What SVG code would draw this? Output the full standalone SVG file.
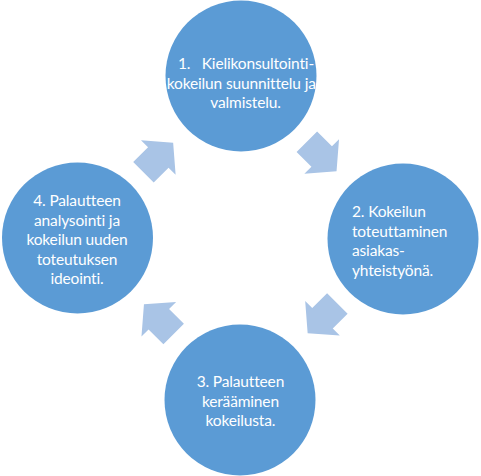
<svg xmlns="http://www.w3.org/2000/svg" width="481" height="476" viewBox="0 0 481 476">
<defs>
<style>
.node circle{fill:#5b9bd5}
.node text{fill:#ffffff;font-family:"Lato","Carlito","Liberation Sans",sans-serif;font-size:15.5px;letter-spacing:-0.15px}
.c{text-anchor:middle}
.arrow{fill:#a9c4e6}
</style>
<path id="arr" d="M-21,-14.5 H0 V-24.5 L21,0 L0,24.5 V14.5 H-21 Z"/>
</defs>
<rect width="481" height="476" fill="#ffffff"/>
<g id="connectors">
<use href="#arr" class="arrow" transform="translate(321.7,156.5) rotate(45)"/>
<use href="#arr" class="arrow" transform="translate(322.5,318.3) rotate(135)"/>
<use href="#arr" class="arrow" transform="translate(158.8,319.2) rotate(225)"/>
<use href="#arr" class="arrow" transform="translate(158.3,157.5) rotate(-45)"/>
</g>
<g id="node1" class="node">
<circle cx="241" cy="76" r="75.5"/>
<text y="69"><tspan x="178">1.</tspan><tspan x="201.7">Kielikonsultointi-</tspan></text>
<text class="c" x="241.3" y="88.5">kokeilun suunnittelu ja</text>
<text class="c" x="245.5" y="108">valmistelu.</text>
</g>
<g id="node2" class="node">
<circle cx="403" cy="239" r="75.5"/>
<text x="352" y="217">2. Kokeilun</text>
<text x="352" y="236.5">toteuttaminen</text>
<text x="352" y="256">asiakas-</text>
<text x="352" y="275.5">yhteistyönä.</text>
</g>
<g id="node3" class="node">
<circle cx="240" cy="400" r="75.5"/>
<text class="c" x="240.4" y="387">3. Palautteen</text>
<text class="c" x="240.4" y="406.5">kerääminen</text>
<text class="c" x="240.4" y="426">kokeilusta.</text>
</g>
<g id="node4" class="node">
<circle cx="77.5" cy="238" r="75.5"/>
<text class="c" x="77" y="206">4. Palautteen</text>
<text class="c" x="77" y="225.5">analysointi ja</text>
<text class="c" x="77" y="245">kokeilun uuden</text>
<text class="c" x="77" y="264.5">toteutuksen</text>
<text class="c" x="77" y="284">ideointi.</text>
</g>
</svg>
